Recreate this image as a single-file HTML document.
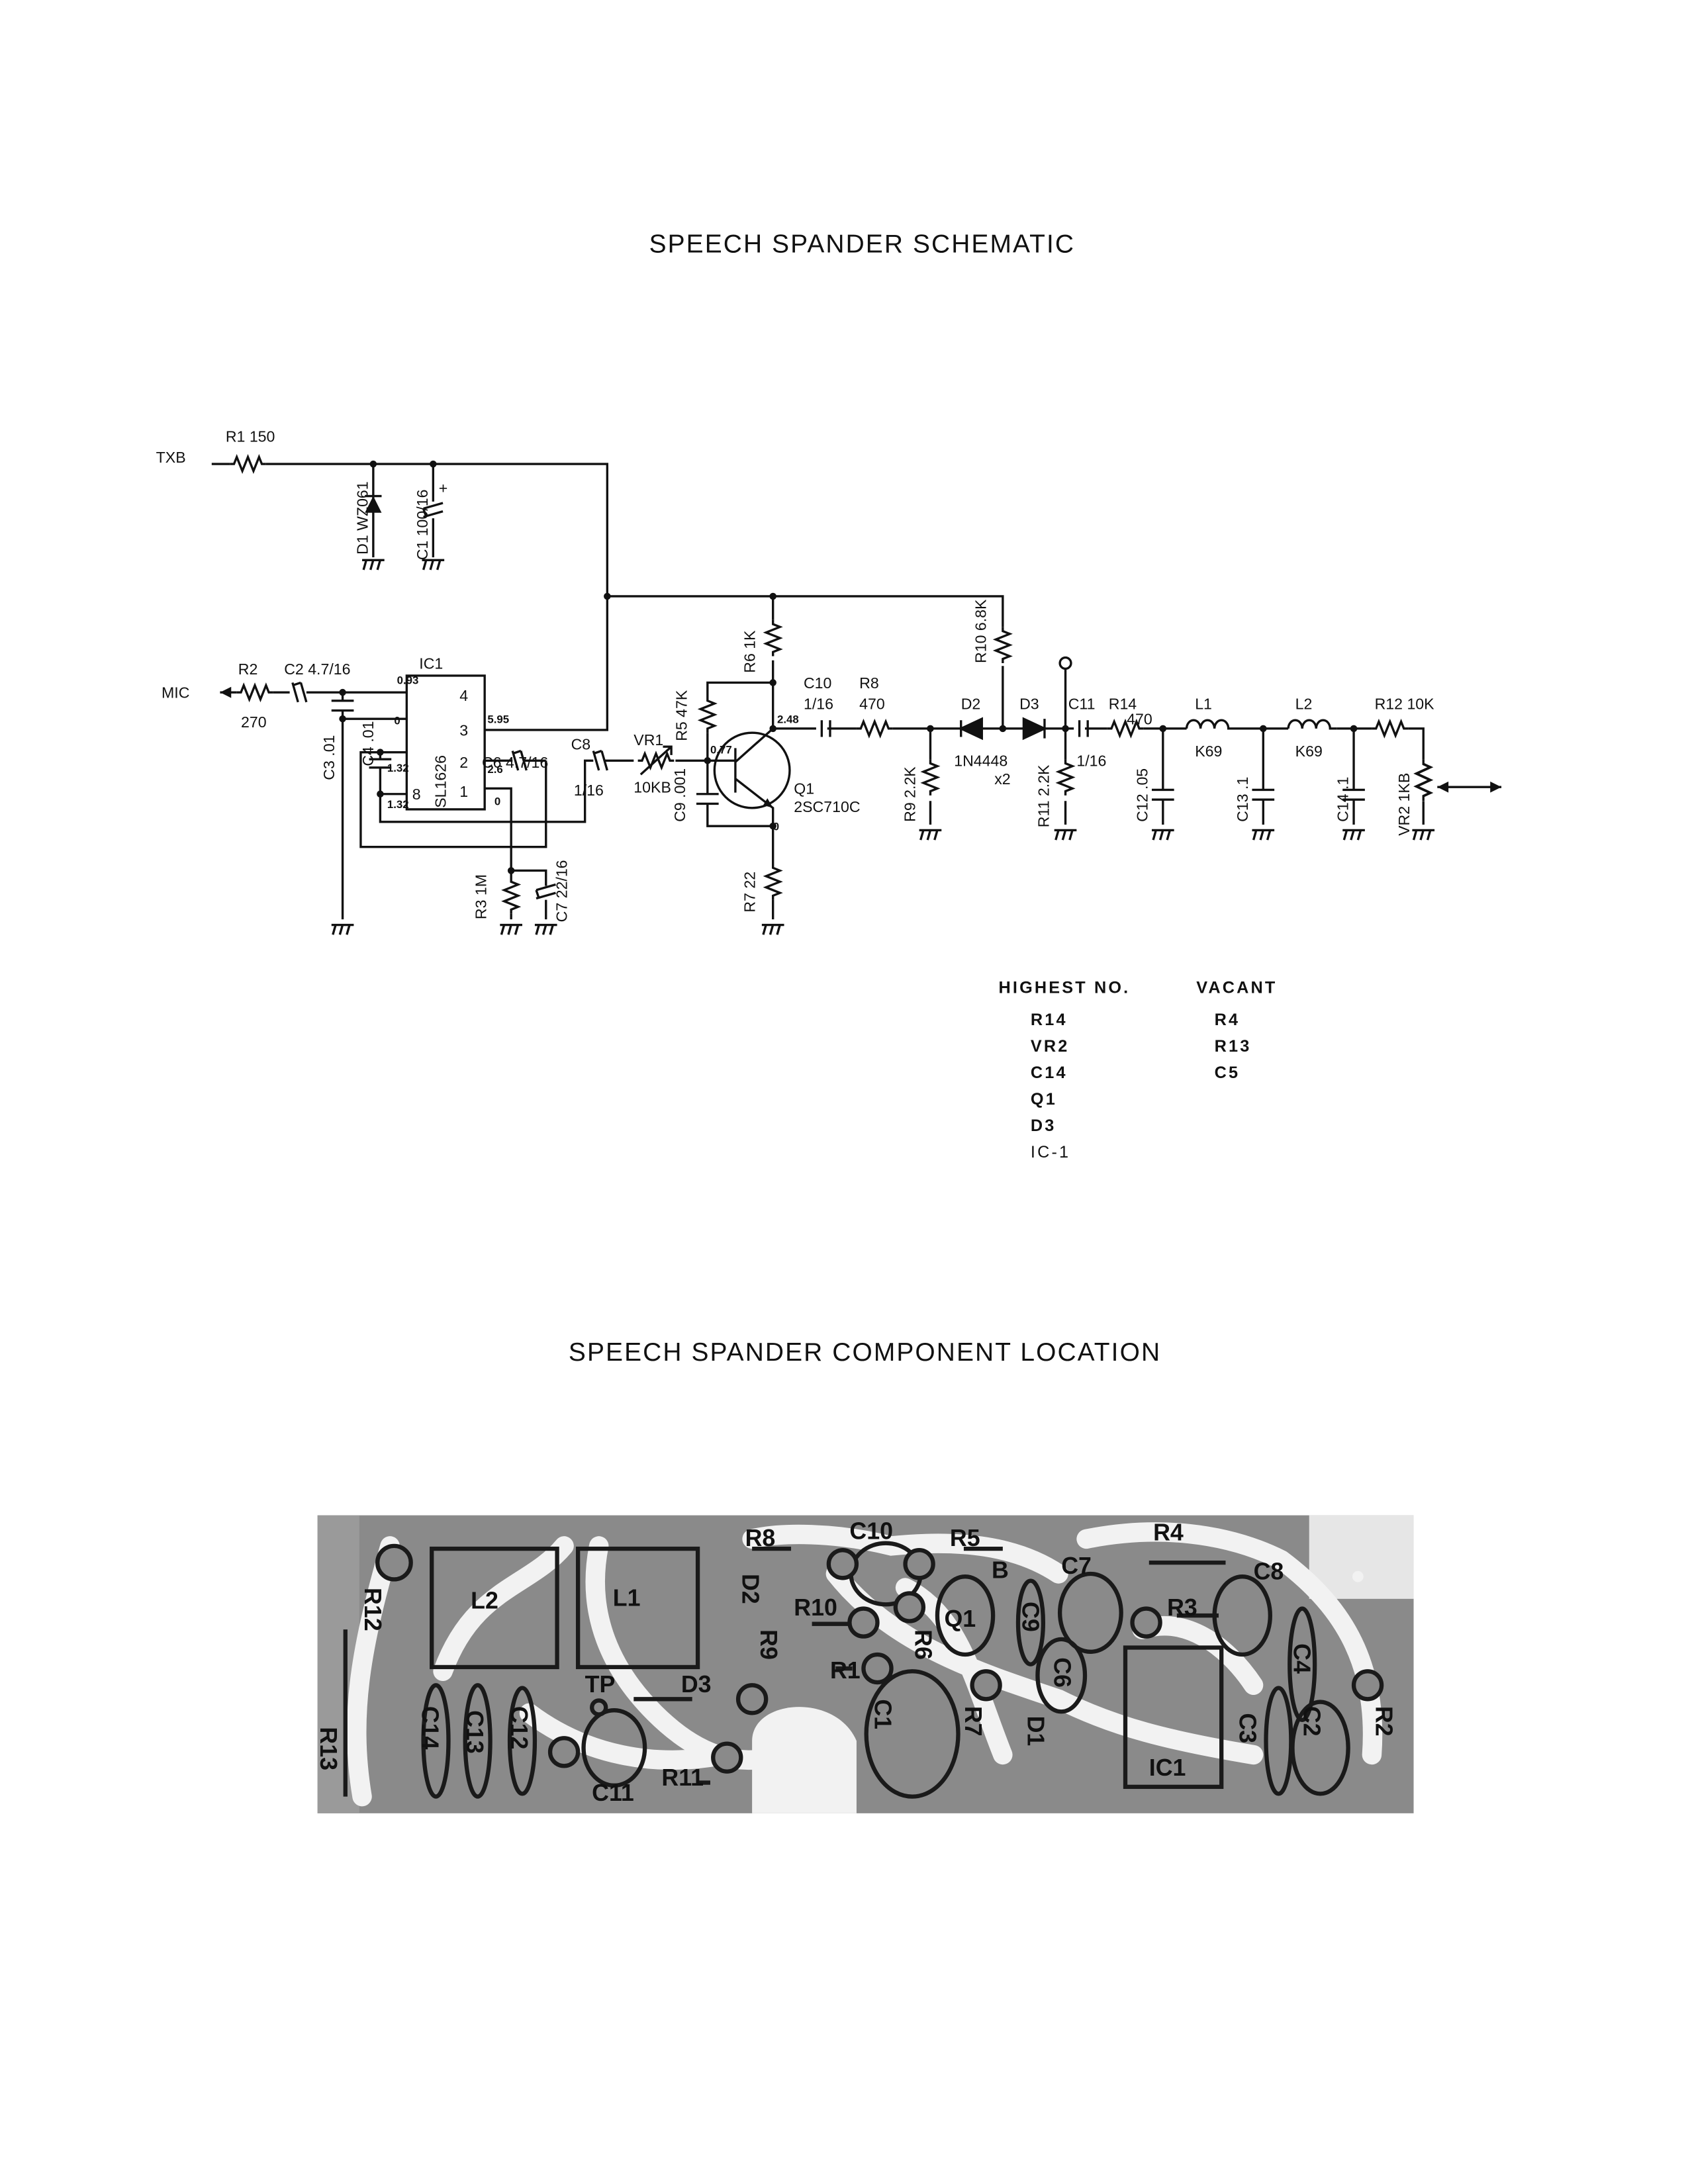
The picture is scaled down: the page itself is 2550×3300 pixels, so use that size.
<!DOCTYPE html>
<html><head><meta charset="utf-8"><style>
html,body{margin:0;padding:0;background:#fff;}
svg{display:block;}
text{font-family:"Liberation Sans",sans-serif;fill:#111;}
.s{font-size:11px;}
.ss{font-size:8px;font-weight:bold;}
.t{font-size:18.5px;letter-spacing:1px;}
.tb{font-size:12px;font-weight:bold;letter-spacing:1.5px;}
.p{font-size:17px;font-weight:bold;fill:#111;}
</style></head><body>
<svg width="2550" height="3300" viewBox="0 0 1212 1568" xmlns="http://www.w3.org/2000/svg">
<defs>
<path id="rh" d="M0 0 h3 l2 -5 l4 10 l4 -10 l4 10 l4 -10 l2 5 h3" fill="none" stroke="#111" stroke-width="1.6"/>
<path id="gnd" d="M-8 0 h16 M-5 0 l-2 7 M0 0 l-2 7 M5 0 l-2 7" fill="none" stroke="#111" stroke-width="1.6"/>
<path id="ecap" d="M-7 -2 l14 -4 M-7 4 l14 -4 M-7 -2 l2 6" fill="none" stroke="#111" stroke-width="1.6"/>
</defs>
<rect width="1224" height="1584" fill="#fff"/>
<text x="619" y="181" text-anchor="middle" class="t">SPEECH SPANDER SCHEMATIC</text>
<text x="621" y="977" text-anchor="middle" class="t">SPEECH SPANDER COMPONENT LOCATION</text>

<g fill="none" stroke="#111" stroke-width="1.6">
<path d="M152 333 H165 M191 333 H436 V524 H348"/>
<path d="M436 428 H720 V450 M720 478 V522"/>
<path d="M268 333 V400 M311 333 V360 M311 372 V400"/>
<path d="M262 356 H274"/>
<path d="M158 497 H170 M196 497 H208 M220 497 H292"/>
<path d="M246 497 V503 M246 510 V660 M238 503 H254 M238 510 H254 M246 516 H292"/>
<rect x="292" y="485" width="56" height="96"/>
<path d="M273 540 H292 M273 540 V545 M265 545 H281 M265 551 H281 M273 551 V570 H292"/>
<path d="M273 540 H259 V608 H392 V546 M348 546 H368 M376 546 H392"/>
<path d="M273 570 V590 H420 V546 H426 M434 546 H455 M485 546 H528"/>
<path d="M348 566 H367 V625 V630 M367 656 V660 M367 625 H392 V636 M392 646 V660"/>
<path d="M555 428 V445 M555 474 V523 M555 490 H508 V500 M508 526 V546"/>
<path d="M508 546 V570 M500 570 H516 M500 577 H516 M508 577 V593 H555"/>
<circle cx="540" cy="553" r="27"/>
<path d="M528 537 V569 M528 547 L555 523 M528 559 L555 580 V620 M555 646 V660"/>
<path d="M555 523 H586 M594 523 H615 M641 523 H690 M705 523 H735 M750 523 H771 M779 523 H795 M821 523 H852 M885 523 H925 M960 523 H985 M1011 523 H1022 V545 M1022 575 V592"/>
<path d="M668 523 V545 M668 575 V592 M765 480 V545 M765 575 V592"/>
<circle cx="765" cy="476" r="4"/>
<path d="M835 523 V567 M827 567 H843 M827 574 H843 M835 574 V592"/>
<path d="M907 523 V567 M899 567 H915 M899 574 H915 M907 574 V592"/>
<path d="M972 523 V567 M964 567 H980 M964 574 H980 M972 574 V592"/>
<path d="M852 523 a5 6 0 0 1 10 0 a5 6 0 0 1 10 0 a5 6 0 0 1 10 0 h3"/>
<path d="M925 523 a5 6 0 0 1 10 0 a5 6 0 0 1 10 0 a5 6 0 0 1 10 0 h5"/>
<path d="M1032 565 H1078"/>
<path d="M460 556 L482 536 M476 536 h6 v6"/>
<path d="M590 517 v12 M596 517 v12 M775 517 v12 M781 517 v12"/>
</g>
<use href="#rh" transform="translate(165,333)"/>
<use href="#rh" transform="translate(170,497)"/>
<use href="#rh" transform="translate(458,546)"/>
<use href="#rh" transform="translate(615,523)"/>
<use href="#rh" transform="translate(795,523)"/>
<use href="#rh" transform="translate(985,523)"/>
<use href="#rh" transform="translate(720,450) rotate(90)"/>
<use href="#rh" transform="translate(555,445) rotate(90)"/>
<use href="#rh" transform="translate(508,500) rotate(90)"/>
<use href="#rh" transform="translate(555,620) rotate(90)"/>
<use href="#rh" transform="translate(367,630) rotate(90)"/>
<use href="#rh" transform="translate(668,545) rotate(90)"/>
<use href="#rh" transform="translate(765,545) rotate(90)"/>
<use href="#rh" transform="translate(1022,545) rotate(90) scale(1.15,1)"/>
<use href="#ecap" transform="translate(311,367)"/>
<use href="#ecap" transform="translate(214,497) rotate(90)"/>
<use href="#ecap" transform="translate(372,546) rotate(90)"/>
<use href="#ecap" transform="translate(430,546) rotate(90)"/>
<use href="#ecap" transform="translate(392,641)"/>
<path d="M262 368 H274 L268 356 Z" fill="#111"/>
<path d="M690 517 V529 M690 523 L705 516 V530 Z" fill="#111" stroke="#111" stroke-width="1.6"/>
<path d="M735 516 V530 L750 523 Z M750 516 V530" fill="#111" stroke="#111" stroke-width="1.6"/>
<path d="M1032 565 l8 -4 v8 Z M1078 565 l-8 -4 v8 Z M555 580 l-7 -2 l3 -5 Z M158 497 l8 -4 v8 Z" fill="#111"/>
<g>
<use href="#gnd" transform="translate(268,402)"/><use href="#gnd" transform="translate(311,402)"/>
<use href="#gnd" transform="translate(246,664)"/><use href="#gnd" transform="translate(367,664)"/>
<use href="#gnd" transform="translate(392,664)"/><use href="#gnd" transform="translate(555,664)"/>
<use href="#gnd" transform="translate(668,596)"/><use href="#gnd" transform="translate(765,596)"/>
<use href="#gnd" transform="translate(835,596)"/><use href="#gnd" transform="translate(907,596)"/>
<use href="#gnd" transform="translate(972,596)"/><use href="#gnd" transform="translate(1022,596)"/>
</g>
<g fill="#111">
<circle cx="268" cy="333" r="2.5"/><circle cx="311" cy="333" r="2.5"/><circle cx="436" cy="428" r="2.5"/>
<circle cx="555" cy="428" r="2.5"/><circle cx="555" cy="490" r="2.5"/><circle cx="555" cy="523" r="2.5"/>
<circle cx="508" cy="546" r="2.5"/><circle cx="555" cy="593" r="2.5"/><circle cx="246" cy="497" r="2.5"/>
<circle cx="246" cy="516" r="2.5"/><circle cx="273" cy="540" r="2.5"/><circle cx="273" cy="570" r="2.5"/>
<circle cx="367" cy="625" r="2.5"/><circle cx="668" cy="523" r="2.5"/><circle cx="720" cy="523" r="2.5"/>
<circle cx="765" cy="523" r="2.5"/><circle cx="835" cy="523" r="2.5"/><circle cx="907" cy="523" r="2.5"/>
<circle cx="972" cy="523" r="2.5"/>
</g>
<g class="s">
<text x="112" y="332">TXB</text><text x="162" y="317">R1 150</text>
<text x="116" y="501">MIC</text><text x="171" y="484">R2</text><text x="173" y="522">270</text>
<text x="204" y="484">C2 4.7/16</text><text x="301" y="480">IC1</text>
<text x="330" y="503">4</text><text x="330" y="528">3</text><text x="330" y="551">2</text><text x="330" y="572">1</text><text x="296" y="574">8</text>
<text x="346" y="551">C6 4.7/16</text><text x="410" y="538">C8</text><text x="412" y="571">1/16</text>
<text x="455" y="535">VR1</text><text x="455" y="569">10KB</text>
<text x="577" y="494">C10</text><text x="577" y="509">1/16</text><text x="617" y="494">R8</text><text x="617" y="509">470</text>
<text x="690" y="509">D2</text><text x="732" y="509">D3</text><text x="767" y="509">C11</text><text x="796" y="509">R14</text>
<text x="809" y="520">470</text><text x="858" y="509">L1</text><text x="858" y="543">K69</text>
<text x="930" y="509">L2</text><text x="930" y="543">K69</text><text x="987" y="509">R12 10K</text>
<text x="685" y="550">1N4448</text><text x="714" y="563">x2</text><text x="773" y="550">1/16</text>
<text x="570" y="570">Q1</text><text x="570" y="583">2SC710C</text>
<text class="ss" x="285" y="491">0.93</text><text class="ss" x="283" y="520">0</text><text class="ss" x="278" y="554">1.32</text><text class="ss" x="278" y="580">1.32</text>
<text class="ss" x="350" y="519">5.95</text><text class="ss" x="350" y="555">2.6</text><text class="ss" x="355" y="578">0</text>
<text class="ss" x="558" y="519">2.48</text><text class="ss" x="510" y="541">0.77</text><text class="ss" x="555" y="596">0</text>
<text transform="translate(264,398) rotate(-90)">D1 WZ061</text>
<text transform="translate(307,402) rotate(-90)">C1 100/16</text>
<text x="315" y="354">+</text>
<text transform="translate(240,560) rotate(-90)">C3 .01</text>
<text transform="translate(268,550) rotate(-90)">C4 .01</text>
<text transform="translate(320,580) rotate(-90)">SL1626</text>
<text transform="translate(349,660) rotate(-90)">R3 1M</text>
<text transform="translate(407,662) rotate(-90)">C7 22/16</text>
<text transform="translate(493,532) rotate(-90)">R5 47K</text>
<text transform="translate(542,483) rotate(-90)">R6 1K</text>
<text transform="translate(492,590) rotate(-90)">C9 .001</text>
<text transform="translate(542,655) rotate(-90)">R7 22</text>
<text transform="translate(708,476) rotate(-90)">R10 6.8K</text>
<text transform="translate(657,590) rotate(-90)">R9 2.2K</text>
<text transform="translate(753,594) rotate(-90)">R11 2.2K</text>
<text transform="translate(824,590) rotate(-90)">C12 .05</text>
<text transform="translate(896,590) rotate(-90)">C13 .1</text>
<text transform="translate(968,590) rotate(-90)">C14 .1</text>
<text transform="translate(1012,600) rotate(-90)">VR2 1KB</text>
</g>
<g class="tb">
<text x="717" y="713">HIGHEST  NO.</text><text x="859" y="713">VACANT</text>
<text x="740" y="736">R14</text><text x="740" y="755">VR2</text><text x="740" y="774">C14</text>
<text x="740" y="793">Q1</text><text x="740" y="812">D3</text><text x="740" y="831" style="font-weight:normal">IC-1</text>
<text x="872" y="736">R4</text><text x="872" y="755">R13</text><text x="872" y="774">C5</text>
</g>

<g>
<rect x="228" y="1088" width="787" height="214" fill="#8a8a8a"/>
<rect x="940" y="1088" width="75" height="60" fill="#e6e6e6"/>
<rect x="228" y="1088" width="30" height="214" fill="#9a9a9a"/>
<g fill="none" stroke="#f2f2f2" stroke-width="14" stroke-linecap="round">
<path d="M280 1110 C260 1180 250 1230 260 1290"/>
<path d="M318 1200 C340 1140 380 1140 405 1110"/>
<path d="M430 1110 C420 1160 440 1200 470 1230 C500 1260 530 1270 560 1260"/>
<path d="M540 1105 C560 1100 600 1100 640 1110 C690 1105 730 1110 760 1130"/>
<path d="M600 1130 C640 1180 700 1200 760 1220 C800 1240 840 1250 900 1260"/>
<path d="M780 1105 C830 1095 880 1100 920 1120 C960 1150 990 1190 985 1260"/>
<path d="M820 1170 C850 1160 880 1180 900 1210"/>
<path d="M380 1230 C420 1260 470 1270 520 1260"/>
<path d="M650 1140 C690 1160 700 1210 720 1260"/>
</g>
<path d="M540 1302 V1250 C540 1220 600 1215 615 1250 V1302 Z" fill="#f2f2f2"/>
<g fill="none" stroke="#1a1a1a" stroke-width="3">
<rect x="310" y="1112" width="90" height="85"/>
<rect x="415" y="1112" width="86" height="85"/>
<rect x="808" y="1183" width="69" height="100"/>
<ellipse cx="636" cy="1130" rx="25" ry="22"/>
<ellipse cx="693" cy="1160" rx="20" ry="28"/>
<ellipse cx="783" cy="1158" rx="22" ry="28"/>
<ellipse cx="762" cy="1203" rx="17" ry="26"/>
<ellipse cx="892" cy="1160" rx="20" ry="28"/>
<ellipse cx="655" cy="1245" rx="33" ry="45"/>
<ellipse cx="441" cy="1255" rx="22" ry="27"/>
<ellipse cx="948" cy="1255" rx="20" ry="33"/>
<ellipse cx="313" cy="1250" rx="9" ry="40"/>
<ellipse cx="343" cy="1250" rx="9" ry="40"/>
<ellipse cx="375" cy="1250" rx="9" ry="38"/>
<ellipse cx="918" cy="1250" rx="9" ry="38"/>
<ellipse cx="935" cy="1195" rx="9" ry="40"/>
<ellipse cx="740" cy="1165" rx="9" ry="30"/>
<path d="M248 1170 V1290 M540 1112 H568 M692 1112 H720 M825 1122 H880 M583 1166 H618 M845 1160 H875 M600 1198 H612 M500 1280 H510 M455 1220 H497"/>
</g>
<g fill="#8a8a8a" stroke="#1a1a1a" stroke-width="3">
<circle cx="283" cy="1122" r="12"/><circle cx="605" cy="1123" r="10"/><circle cx="660" cy="1123" r="10"/>
<circle cx="653" cy="1154" r="10"/><circle cx="620" cy="1165" r="10"/><circle cx="630" cy="1198" r="10"/>
<circle cx="540" cy="1220" r="10"/><circle cx="522" cy="1262" r="10"/><circle cx="708" cy="1210" r="10"/>
<circle cx="823" cy="1165" r="10"/><circle cx="982" cy="1210" r="10"/><circle cx="405" cy="1258" r="10"/>
<circle cx="430" cy="1226" r="5"/>
</g>
<g fill="#f2f2f2"><circle cx="578" cy="1252" r="5"/><circle cx="975" cy="1132" r="4"/></g>
<g class="p">
<text x="338" y="1155">L2</text><text x="440" y="1153">L1</text>
<text x="535" y="1110">R8</text><text x="610" y="1105">C10</text><text x="682" y="1110">R5</text><text x="828" y="1106">R4</text>
<text x="900" y="1134">C8</text><text x="762" y="1130">C7</text><text x="712" y="1133">B</text>
<text x="570" y="1160">R10</text><text x="678" y="1168">Q1</text><text x="838" y="1160">R3</text>
<text x="596" y="1205">R1</text><text x="489" y="1215">D3</text><text x="420" y="1215">TP</text>
<text x="825" y="1275">IC1</text><text x="425" y="1293">C11</text><text x="475" y="1282">R11</text>
<text transform="translate(262,1140) rotate(90)">R12</text>
<text transform="translate(533,1130) rotate(90)">D2</text>
<text transform="translate(546,1170) rotate(90)">R9</text>
<text transform="translate(657,1170) rotate(90)">R6</text>
<text transform="translate(734,1150) rotate(90)">C9</text>
<text transform="translate(757,1190) rotate(90)">C6</text>
<text transform="translate(929,1180) rotate(90)">C4</text>
<text transform="translate(628,1220) rotate(90)">C1</text>
<text transform="translate(693,1225) rotate(90)">R7</text>
<text transform="translate(738,1232) rotate(90)">D1</text>
<text transform="translate(890,1230) rotate(90)">C3</text>
<text transform="translate(936,1225) rotate(90)">C2</text>
<text transform="translate(988,1225) rotate(90)">R2</text>
<text transform="translate(230,1240) rotate(90)">R13</text>
<text transform="translate(303,1225) rotate(90)">C14</text>
<text transform="translate(335,1228) rotate(90)">C13</text>
<text transform="translate(367,1225) rotate(90)">C12</text>
</g>
</g>
</svg>
</body></html>
